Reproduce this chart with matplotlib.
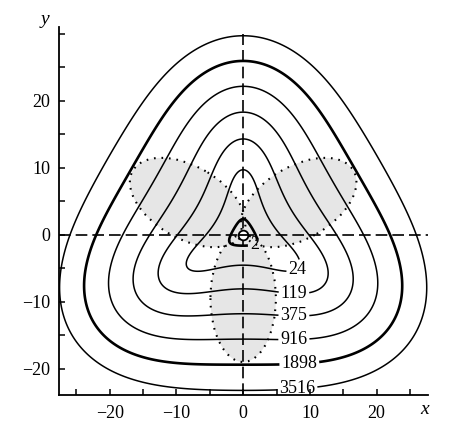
import numpy as np
import matplotlib
matplotlib.use("Agg")
import matplotlib.pyplot as plt
from matplotlib.patches import Ellipse

plt.rcParams["font.family"] = "Liberation Serif"
plt.rcParams["axes.unicode_minus"] = True

# contour levels and where their labels sit (x, y)
levels = [2, 24, 119, 375, 916, 1898, 3516]
bold_levels = [2, 1898]
label_x = [1.8, 8.1, 7.6, 7.6, 7.6, 8.4, 8.1]
label_y = [-1.8, -5.2, -9.0, -12.2, -15.7, -19.0, -22.7]

# three-fold potential V = a*r^2 + b*(y^3 - 3x^2 y) + c*r^4 + d*r^2*(y^3 - 3x^2 y)
pot_coef = [0.5621, -0.09991, 0.006943, 1.024e-05]

# dotted/shaded lobes: direction (deg), centre distance, radial and tangential semi-axes
lobe_angle = [30, 150, 270]
lobe_dist = [9.6, 9.6, 9.5]
lobe_radial = [9.5, 9.5, 9.5]
lobe_tangential = [5.4, 5.4, 4.9]

xlim = (-27.6, 27.7)
ylim = (-24.0, 31.0)


def potential(x, y):
    r2 = x ** 2 + y ** 2
    j = y ** 3 - 3 * x ** 2 * y
    a, b, c, d = pot_coef
    return a * r2 + b * j + c * r2 ** 2 + d * r2 * j


fig = plt.figure(figsize=(4.53, 4.36), dpi=100)
ax = fig.add_axes([0.130, 0.093, 0.815, 0.845])

# shaded lobes
for ang, dist, ra, rt in zip(lobe_angle, lobe_dist, lobe_radial, lobe_tangential):
    t = np.deg2rad(ang)
    c = (dist * np.cos(t), dist * np.sin(t))
    ax.add_patch(Ellipse(c, 2 * ra, 2 * rt, angle=ang, facecolor="#e6e6e6",
                         edgecolor="none", zorder=1))
    ax.add_patch(Ellipse(c, 2 * ra, 2 * rt, angle=ang, facecolor="none",
                         edgecolor="black", lw=1.5, linestyle=(0, (0.8, 2.8)), zorder=2))

X, Y = np.meshgrid(np.linspace(xlim[0], xlim[1], 600), np.linspace(ylim[0], ylim[1], 600))
V = potential(X, Y)
widths = [1.9 if lv in bold_levels else 1.1 for lv in levels]
cs = ax.contour(X, Y, V, levels=levels, colors="black", linewidths=widths, zorder=3)
texts = ax.clabel(cs, levels, inline=True, inline_spacing=2, fmt="%d", fontsize=13,
                  manual=list(zip(label_x, label_y)))
for t in texts:
    t.set_rotation(0)

# dashed reference lines through the minimum
ax.plot([0, 0], [ylim[0], 30], color="black", lw=1.2, ls=(0, (7, 3)), zorder=4)
ax.plot(list(xlim), [0, 0], color="black", lw=1.2, ls=(0, (7, 3)), zorder=4)

# minimum marker
ax.plot([0], [0], marker="o", ms=7, mfc="white", mec="black", mew=1.3, zorder=5)
ax.plot([0], [0], marker="_", ms=7, mec="black", mew=1.3, zorder=6)

ax.set_xlim(*xlim)
ax.set_ylim(*ylim)
ax.spines["top"].set_visible(False)
ax.spines["right"].set_visible(False)
ax.spines["left"].set_linewidth(1.3)
ax.spines["bottom"].set_linewidth(1.3)
ax.set_xticks([-20, -10, 0, 10, 20])
ax.set_yticks([-20, -10, 0, 10, 20])
ax.set_xticks([-25, -15, -5, 5, 15, 25], minor=True)
ax.set_yticks([-15, -5, 5, 15, 25, 30], minor=True)
ax.tick_params(which="both", direction="in", length=4, width=1.1, labelsize=13)
ax.tick_params(axis="x", pad=7)
ax.tick_params(axis="y", pad=6)

fig.text(0.099, 0.955, "y", fontsize=14, style="italic", ha="center", va="center")
fig.text(0.938, 0.060, "x", fontsize=14, style="italic", ha="center", va="center")

fig.savefig("out.png", dpi=100, facecolor="white")
